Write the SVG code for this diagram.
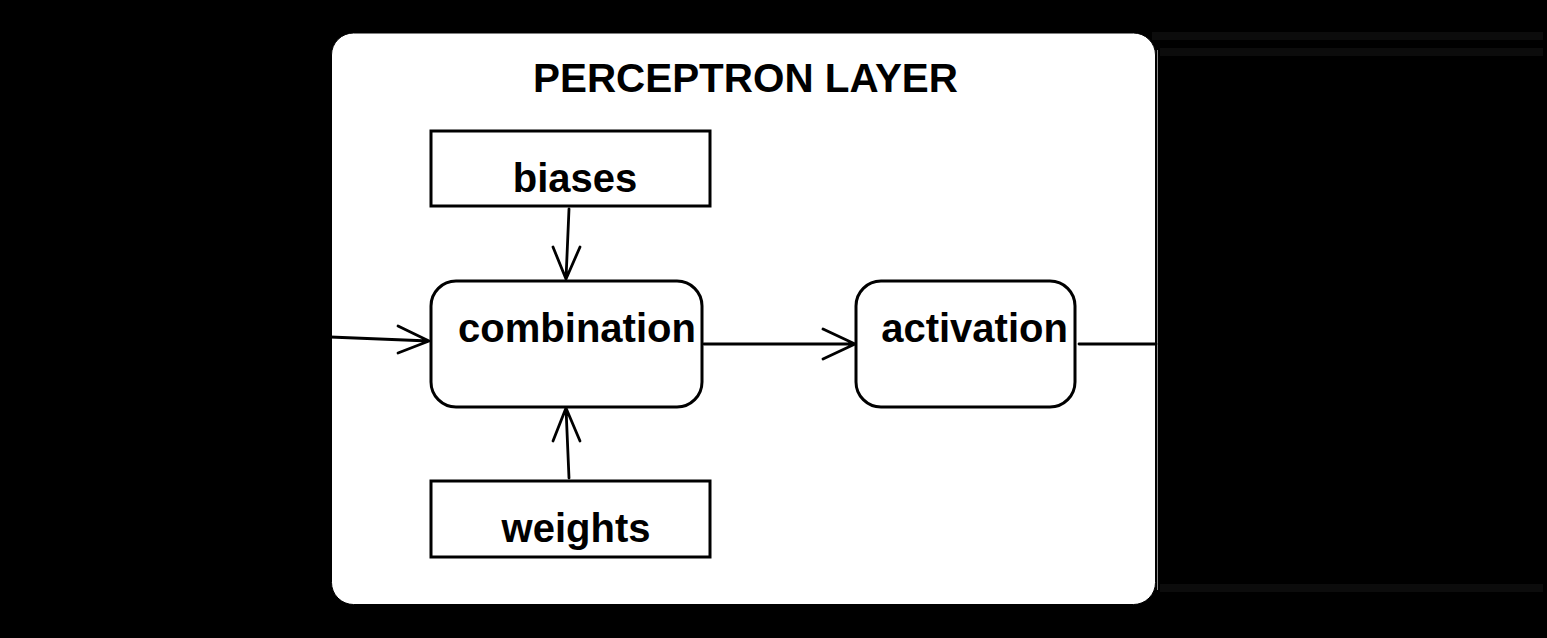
<svg xmlns="http://www.w3.org/2000/svg" width="1547" height="638" viewBox="0 0 1547 638">
<style>
.box{fill:#fff;stroke:#000;stroke-width:3}
.lbl{font-family:"Liberation Sans",Arial,sans-serif;font-weight:bold;font-size:40px;fill:#000}
.con{fill:none;stroke:#000;stroke-width:2.8;stroke-linecap:round;stroke-linejoin:round}
</style>
<rect x="0" y="0" width="1547" height="638" fill="#000"/>
<g id="bands">
<rect x="1152" y="32" width="391" height="8" fill="#0c0c0c"/>
<rect x="1160" y="48" width="383" height="8" fill="#0c0c0c"/>
<rect x="1160" y="584" width="383" height="8" fill="#0c0c0c"/>
</g>
<g id="layer">
<rect x="331.5" y="33" width="824" height="571.5" rx="22" ry="22" fill="#fff" stroke="#000" stroke-width="1"/>
<line x1="1157.5" y1="50" x2="1157.5" y2="590" stroke="#8a8a8a" stroke-width="1"/>
<text class="lbl" x="745.5" y="92" text-anchor="middle" textLength="425" lengthAdjust="spacingAndGlyphs">PERCEPTRON LAYER</text>
</g>
<g id="biases">
<rect class="box" x="431" y="131" width="279" height="75"/>
<text class="lbl" x="575" y="192" text-anchor="middle">biases</text>
</g>
<g id="combination">
<rect class="box" x="431" y="281" width="271" height="126" rx="25" ry="25"/>
<text class="lbl" x="577" y="342" text-anchor="middle">combination</text>
</g>
<g id="activation">
<rect class="box" x="856" y="281" width="219" height="126" rx="25" ry="25"/>
<text class="lbl" x="974.5" y="342" text-anchor="middle">activation</text>
</g>
<g id="weights">
<rect class="box" x="431" y="481" width="279" height="76"/>
<text class="lbl" x="576" y="542" text-anchor="middle">weights</text>
</g>
<g id="connectors">
<path class="con" d="M330 337 L429 341 M398 326 L429 341 L398 353"/>
<path class="con" d="M704 344 L855 344 M823 329 L855 344 L823 359"/>
<path class="con" d="M569 209 L566 279 M553 247 L566 279 L580 247"/>
<path class="con" d="M569 478 L566 408 M553 441 L566 408 L580 441"/>
<path class="con" d="M1079 344 L1156 344"/>
</g>
</svg>
